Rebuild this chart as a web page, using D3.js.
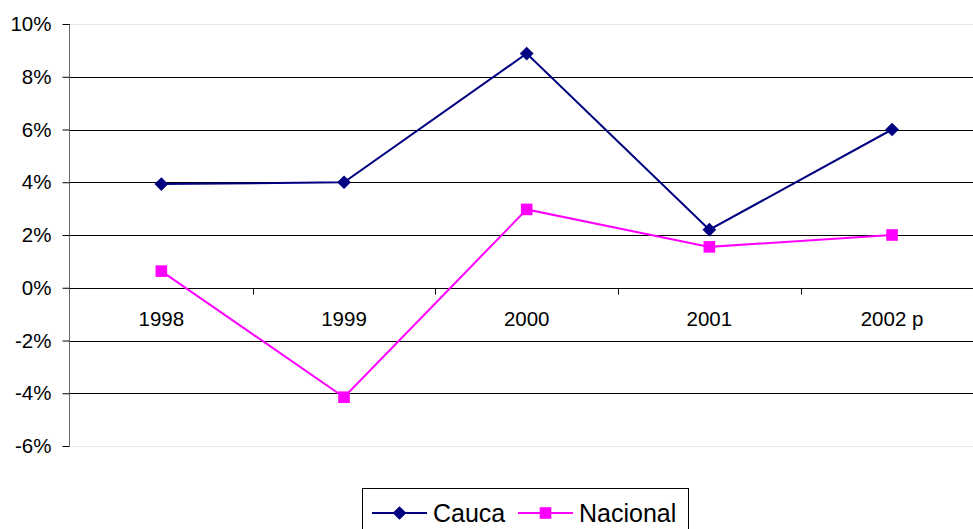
<!DOCTYPE html>
<html><head><meta charset="utf-8">
<script src="https://cdn.jsdelivr.net/npm/d3@7"></script>
<style>body{margin:0;background:#fff;}svg{display:block;font-family:Arial,"Liberation Sans",sans-serif;}</style>
</head><body>
<script>
const categories = ["1998","1999","2000","2001","2002 p"];
const cauca = [3.93, 4.0, 8.88, 2.2, 6.0];
const nacional = [0.63, -4.15, 2.97, 1.55, 2.0];
const yTicks = [-6,-4,-2,0,2,4,6,8,10];
const seriesNames = ["Cauca","Nacional"];

const W=973,H=529;
const svg=d3.select("body").append("svg").attr("width",W).attr("height",H);
const x=d3.scaleBand().domain(categories).range([70,983.4]);
const y=d3.scaleLinear().domain([-6,10]).range([446,24]);

// gridlines
svg.append("g").selectAll("line").data(yTicks).join("line")
  .attr("x1",69).attr("x2",W).attr("y1",d=>Math.round(y(d))+0.5).attr("y2",d=>Math.round(y(d))+0.5)
  .attr("stroke",d=>(d===10||d===-6)?"#e6e6e6":"#000").attr("stroke-width",1);

// y axis
const ya=svg.append("g").attr("transform","translate(69.5,0)")
  .call(d3.axisLeft(y).tickValues(yTicks).tickSize(7).tickFormat(d=>d+"%"));
ya.select(".domain").attr("stroke","#666").attr("d",`M0,${y(10)}V${y(-6)}`);
ya.selectAll(".tick line").attr("stroke","#000");
ya.selectAll(".tick text").attr("font-size",20.5).attr("fill","#000").attr("x",-18).attr("font-family","Arial, Liberation Sans, sans-serif");

// category axis at 0
const xa=svg.append("g").attr("transform",`translate(0,${Math.round(y(0))+0.5})`);
xa.selectAll("line").data(categories.slice(1)).join("line")
  .attr("x1",d=>Math.round(x(d))+0.5).attr("x2",d=>Math.round(x(d))+0.5).attr("y1",0).attr("y2",6).attr("stroke","#000");
xa.selectAll("text").data(categories).join("text")
  .attr("x",d=>x(d)+x.bandwidth()/2).attr("y",37).attr("text-anchor","middle").attr("font-size",20.5).text(d=>d);

const line=d3.line().x((d,i)=>x(categories[i])+x.bandwidth()/2).y(d=>y(d));
const diamond=d3.symbol().type(d3.symbolDiamond2).size(120);
const square=d3.symbol().type(d3.symbolSquare).size(135);

svg.append("path").datum(cauca).attr("d",line).attr("fill","none").attr("stroke","#000080").attr("stroke-width",2);
svg.append("path").datum(nacional).attr("d",line).attr("fill","none").attr("stroke","#FF00FF").attr("stroke-width",2);
svg.append("g").selectAll("path").data(cauca).join("path")
  .attr("transform",(d,i)=>`translate(${x(categories[i])+x.bandwidth()/2},${y(d)})`)
  .attr("d",diamond).attr("fill","#000080");
svg.append("g").selectAll("path").data(nacional).join("path")
  .attr("transform",(d,i)=>`translate(${x(categories[i])+x.bandwidth()/2},${y(d)})`)
  .attr("d",square).attr("fill","#FF00FF");

// legend
const lg=svg.append("g");
lg.append("rect").attr("x",362.5).attr("y",488.5).attr("width",326).attr("height",50).attr("fill","#fff").attr("stroke","#000");
const lx=[372,518], colors=["#000080","#FF00FF"];
seriesNames.forEach((n,i)=>{
  lg.append("line").attr("x1",lx[i]).attr("x2",lx[i]+55).attr("y1",513).attr("y2",513).attr("stroke",colors[i]).attr("stroke-width",2);
  lg.append("path").attr("transform",`translate(${lx[i]+27.5},513)`).attr("d",i===0?diamond:square).attr("fill",colors[i]);
  lg.append("text").attr("x",lx[i]+61).attr("y",522).attr("font-size",25).text(n);
});
</script>
</body></html>
